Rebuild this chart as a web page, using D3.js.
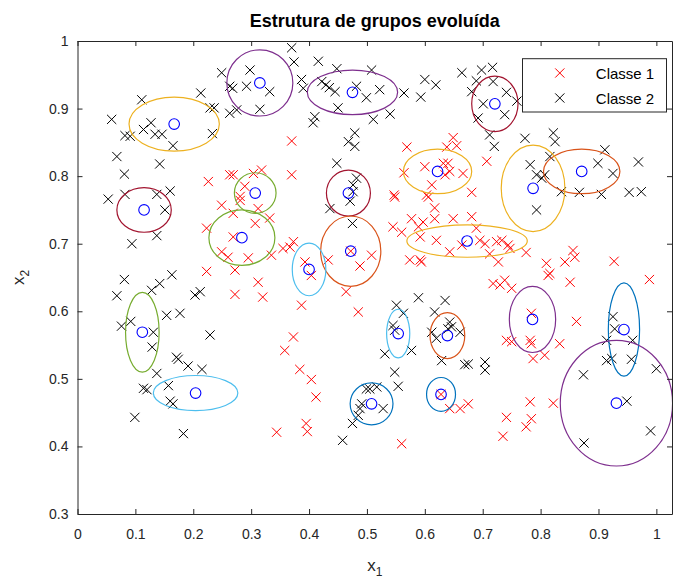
<!DOCTYPE html>
<html>
<head>
<meta charset="utf-8">
<script src="https://cdn.jsdelivr.net/npm/d3@7"></script>
<style>
  body { margin: 0; background: #fff; }
  svg { font-family: "Liberation Sans", Arial, sans-serif; }
</style>
</head>
<body>
<svg id="chart" width="680" height="580"></svg>
<script>
// Classe 1 (red x)
const class1X = [0.226,0.370,0.370,0.263,0.269,0.304,0.318,0.289,0.281,0.569,0.649,0.655,0.638,0.600,0.632,0.640,0.643,0.635,0.666,0.564,
  0.612,0.547,0.603,0.681,0.707,0.249,0.223,0.249,0.223,0.281,0.269,0.312,0.332,0.307,0.269,0.260,0.295,0.272,0.335,0.355,
  0.367,0.373,0.393,0.404,0.312,0.272,0.320,0.387,0.373,0.358,0.433,0.472,0.488,0.464,0.485,0.548,0.606,0.617,0.617,0.577,
  0.597,0.589,0.649,0.681,0.545,0.560,0.689,0.592,0.620,0.664,0.695,0.704,0.724,0.733,0.744,0.643,0.712,0.574,0.592,0.594,
  0.727,0.508,0.718,0.730,0.738,0.750,0.741,0.750,0.747,0.775,0.810,0.816,0.813,0.842,0.856,0.859,0.851,0.927,0.988,0.784,
  0.862,0.782,0.784,0.833,0.787,0.807,0.384,0.404,0.412,0.344,0.395,0.397,0.628,0.643,0.661,0.675,0.560,0.741,0.735,0.782,
  0.822,0.784,0.775];
const class1Y = [0.792,0.852,0.802,0.802,0.802,0.804,0.809,0.785,0.770,0.843,0.857,0.845,0.843,0.814,0.819,0.819,0.807,0.802,0.804,0.805,
  0.787,0.772,0.772,0.776,0.822,0.757,0.723,0.688,0.659,0.764,0.745,0.752,0.738,0.730,0.710,0.680,0.679,0.661,0.683,0.693,
  0.695,0.703,0.673,0.653,0.643,0.625,0.621,0.609,0.562,0.542,0.676,0.689,0.667,0.629,0.599,0.769,0.769,0.753,0.737,0.737,
  0.732,0.725,0.737,0.740,0.725,0.717,0.723,0.710,0.705,0.698,0.705,0.700,0.703,0.705,0.698,0.688,0.685,0.676,0.676,0.673,
  0.673,0.683,0.641,0.639,0.646,0.634,0.557,0.555,0.693,0.687,0.671,0.656,0.653,0.673,0.690,0.680,0.643,0.674,0.647,0.597,
  0.585,0.557,0.552,0.552,0.530,0.535,0.514,0.499,0.473,0.421,0.434,0.422,0.477,0.456,0.456,0.463,0.404,0.443,0.415,0.466,
  0.464,0.441,0.429];

// Classe 2 (black x)
const class2X = [0.213,0.111,0.229,0.236,0.059,0.127,0.114,0.082,0.091,0.134,0.146,0.233,0.165,0.068,0.142,0.081,0.053,0.082,0.137,0.160,
  0.370,0.374,0.416,0.448,0.298,0.249,0.263,0.268,0.292,0.332,0.387,0.390,0.422,0.429,0.435,0.445,0.482,0.499,0.450,0.263,
  0.275,0.315,0.410,0.407,0.479,0.468,0.479,0.448,0.482,0.476,0.476,0.508,0.522,0.511,0.540,0.564,0.600,0.619,0.593,0.664,
  0.698,0.717,0.689,0.718,0.681,0.741,0.701,0.738,0.692,0.712,0.720,0.759,0.773,0.822,0.825,0.816,0.782,0.793,0.802,0.807,
  0.911,0.899,0.925,0.969,0.836,0.867,0.905,0.953,0.974,0.151,0.094,0.137,0.081,0.068,0.163,0.142,0.128,0.203,0.212,0.154,
  0.177,0.076,0.092,0.131,0.129,0.229,0.171,0.436,0.471,0.475,0.551,0.589,0.635,0.617,0.563,0.545,0.548,0.643,0.640,0.646,
  0.612,0.620,0.661,0.577,0.531,0.793,0.925,0.928,0.914,0.959,0.174,0.191,0.215,0.137,0.114,0.120,0.157,0.160,0.165,0.099,
  0.183,0.458,0.475,0.485,0.488,0.491,0.499,0.548,0.554,0.505,0.517,0.528,0.629,0.669,0.675,0.704,0.704,0.874,0.914,0.923,
  0.957,1.000,0.949,0.875,0.990];
const class2Y = [0.923,0.913,0.901,0.901,0.884,0.879,0.869,0.860,0.859,0.862,0.862,0.863,0.845,0.829,0.818,0.803,0.766,0.773,0.773,0.778,
  0.990,0.969,0.970,0.959,0.957,0.953,0.933,0.930,0.933,0.925,0.943,0.930,0.940,0.935,0.931,0.925,0.933,0.916,0.901,0.893,
  0.898,0.899,0.888,0.879,0.864,0.851,0.844,0.819,0.797,0.787,0.777,0.957,0.928,0.884,0.892,0.923,0.943,0.935,0.917,0.953,
  0.957,0.961,0.941,0.940,0.925,0.924,0.907,0.891,0.886,0.861,0.844,0.911,0.856,0.864,0.851,0.829,0.817,0.802,0.797,0.802,
  0.839,0.819,0.804,0.821,0.777,0.776,0.773,0.776,0.777,0.750,0.700,0.712,0.647,0.623,0.654,0.641,0.631,0.624,0.629,0.594,
  0.597,0.578,0.585,0.569,0.547,0.565,0.532,0.752,0.763,0.730,0.609,0.620,0.616,0.599,0.597,0.579,0.572,0.584,0.574,0.577,
  0.569,0.560,0.569,0.542,0.537,0.750,0.592,0.574,0.557,0.557,0.529,0.519,0.514,0.508,0.486,0.484,0.490,0.467,0.463,0.443,
  0.419,0.409,0.434,0.446,0.456,0.463,0.485,0.510,0.489,0.485,0.488,0.456,0.527,0.521,0.522,0.525,0.513,0.506,0.527,0.530,
  0.529,0.515,0.467,0.405,0.423];

// evolved groups: centres, semi-axes and colour-order index
const groupX  = [0.167,0.315,0.475,0.721,0.871,0.787,0.622,0.468,0.307,0.115,0.284,0.472,0.400,0.673,0.112,0.786,0.944,0.554,0.639,0.204,0.508,0.628,0.931];
const groupY  = [0.877,0.938,0.924,0.907,0.807,0.782,0.807,0.775,0.775,0.750,0.709,0.689,0.662,0.704,0.569,0.588,0.573,0.567,0.564,0.479,0.463,0.477,0.464];
const groupRx = [0.078,0.057,0.078,0.040,0.066,0.055,0.059,0.038,0.036,0.047,0.057,0.052,0.029,0.104,0.029,0.040,0.027,0.020,0.030,0.073,0.037,0.025,0.097];
const groupRy = [0.040,0.049,0.033,0.041,0.033,0.064,0.033,0.034,0.030,0.033,0.041,0.052,0.039,0.024,0.059,0.049,0.069,0.036,0.034,0.026,0.031,0.025,0.093];
const groupColor = [2,3,3,6,1,2,2,6,4,6,4,1,5,2,4,3,0,5,1,5,0,0,3];

const xTicks = [0,0.1,0.2,0.3,0.4,0.5,0.6,0.7,0.8,0.9,1];
const yTicks = [0.3,0.4,0.5,0.6,0.7,0.8,0.9,1];
const legendLabels = ['Classe 1', 'Classe 2'];

const palette = ['#0072BD','#D95319','#EDB120','#7E2F8E','#77AC30','#4DBEEE','#A2142F'];
const axisColor = '#262626';

const svg = d3.select('#chart');
const margin = {left: 77.5, top: 41, right: 8, bottom: 66};
const width = 680 - margin.left - margin.right;
const height = 580 - margin.top - margin.bottom;

const x = d3.scaleLinear().domain([0, 1.027]).range([0, width]);
const y = d3.scaleLinear().domain([0.3, 1]).range([height, 0]);

const chart = svg.append('g')
  .attr('transform', `translate(${margin.left}, ${margin.top})`);

svg.append('defs').append('clipPath').attr('id', 'clip')
  .append('rect').attr('width', width).attr('height', height);

const plot = chart.append('g').attr('clip-path', 'url(#clip)');

const cross = 4.6;
const xPath = `M${-cross},${-cross}L${cross},${cross}M${-cross},${cross}L${cross},${-cross}`;

const class1 = class1X.map((v, i) => ({x: v, y: class1Y[i]}));
const class2 = class2X.map((v, i) => ({x: v, y: class2Y[i]}));
const groups = groupX.map((v, i) => ({x: v, y: groupY[i], rx: groupRx[i], ry: groupRy[i], c: groupColor[i]}));

plot.selectAll('.c1').data(class1).enter().append('path')
  .attr('class', 'c1')
  .attr('d', xPath)
  .attr('transform', d => `translate(${x(d.x)},${y(d.y)})`)
  .attr('stroke', '#FF0000').attr('stroke-width', 1).attr('fill', 'none');

plot.selectAll('.c2').data(class2).enter().append('path')
  .attr('class', 'c2')
  .attr('d', xPath)
  .attr('transform', d => `translate(${x(d.x)},${y(d.y)})`)
  .attr('stroke', '#000000').attr('stroke-width', 1).attr('fill', 'none');

plot.selectAll('.centre').data(groups).enter().append('circle')
  .attr('class', 'centre')
  .attr('cx', d => x(d.x)).attr('cy', d => y(d.y)).attr('r', 5.3)
  .attr('fill', 'none').attr('stroke', '#0000FF').attr('stroke-width', 1.1);

plot.selectAll('.grp').data(groups).enter().append('ellipse')
  .attr('class', 'grp')
  .attr('cx', d => x(d.x)).attr('cy', d => y(d.y))
  .attr('rx', d => x(d.rx) - x(0)).attr('ry', d => y(0.3) - y(0.3 + d.ry))
  .attr('fill', 'none').attr('stroke', d => palette[d.c]).attr('stroke-width', 1.2);

// axes box with inward ticks on all sides
function styleAxis(g) {
  g.selectAll('path.domain').attr('stroke', axisColor);
  g.selectAll('.tick line').attr('stroke', axisColor);
  g.selectAll('.tick text').attr('fill', axisColor).attr('font-size', 14)
    .attr('font-family', '"Liberation Sans", Arial, sans-serif');
}

chart.append('g')
  .attr('transform', `translate(0, ${height})`)
  .call(d3.axisBottom(x).tickValues(xTicks).tickSize(-5).tickSizeOuter(0).tickPadding(15).tickFormat(d => String(d)))
  .call(styleAxis);
chart.append('g')
  .call(d3.axisTop(x).tickValues(xTicks).tickSize(-5).tickSizeOuter(0).tickFormat(''))
  .call(styleAxis);
chart.append('g')
  .call(d3.axisLeft(y).tickValues(yTicks).tickSize(-5).tickSizeOuter(0).tickPadding(9).tickFormat(d => String(d)))
  .call(styleAxis);
chart.append('g')
  .attr('transform', `translate(${width}, 0)`)
  .call(d3.axisRight(y).tickValues(yTicks).tickSize(-5).tickSizeOuter(0).tickFormat(''))
  .call(styleAxis);

// title and labels
svg.append('text')
  .attr('x', margin.left + width / 2).attr('y', 27)
  .attr('text-anchor', 'middle').attr('font-weight', 'bold').attr('font-size', 18)
  .attr('fill', '#000')
  .text('Estrutura de grupos evoluída');

const xl = svg.append('text')
  .attr('x', margin.left + width / 2).attr('y', 571)
  .attr('text-anchor', 'middle').attr('font-size', 17).attr('fill', axisColor);
xl.append('tspan').text('x');
xl.append('tspan').attr('font-size', 12).attr('dy', 5).text('1');

const yl = svg.append('text')
  .attr('transform', `translate(24, ${margin.top + height / 2}) rotate(-90)`)
  .attr('text-anchor', 'middle').attr('font-size', 17).attr('fill', axisColor);
yl.append('tspan').text('x');
yl.append('tspan').attr('font-size', 12).attr('dy', 5).text('2');

// legend
const legend = chart.append('g').attr('transform', `translate(${width - 149.5}, 17.7)`);
legend.append('rect')
  .attr('width', 144).attr('height', 53.3)
  .attr('fill', '#fff').attr('stroke', axisColor).attr('stroke-width', 1);
const legendColors = ['#FF0000', '#000000'];
legendLabels.forEach((label, i) => {
  const row = legend.append('g').attr('transform', `translate(0, ${14.3 + i * 25})`);
  row.append('path').attr('d', xPath).attr('transform', 'translate(37.3,0)')
    .attr('stroke', legendColors[i]).attr('stroke-width', 1).attr('fill', 'none');
  row.append('text').attr('x', 73.3).attr('y', 5.5)
    .attr('font-size', 15).attr('fill', '#000').text(label);
});
</script>
</body>
</html>
